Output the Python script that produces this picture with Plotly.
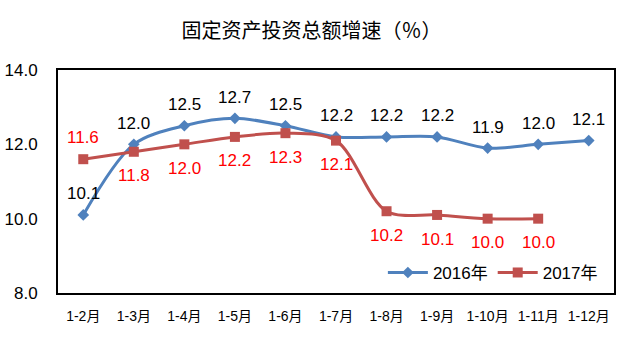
import plotly.graph_objects as go

categories = ["1-2月", "1-3月", "1-4月", "1-5月", "1-6月", "1-7月", "1-8月", "1-9月", "1-10月", "1-11月", "1-12月"]
values_2016 = [10.1, 12.0, 12.5, 12.7, 12.5, 12.2, 12.2, 12.2, 11.9, 12.0, 12.1]
values_2017 = [11.6, 11.8, 12.0, 12.2, 12.3, 12.1, 10.2, 10.1, 10.0, 10.0, None]
y_ticks = [8.0, 10.0, 12.0, 14.0]

# label offsets (pixels, styling only)
shift_2016 = [21] * len(values_2016)
shift_2017 = [22, -24, -24, -24, -24, -24, -24, -25, -24, -24, 0]

FONT = "Liberation Sans, Noto Sans CJK SC, sans-serif"
BLUE = "#4F81BD"
RED = "#C0504D"

fig = go.Figure()
fig.add_trace(go.Scatter(
    x=categories, y=values_2016, name="2016年", mode="lines+markers",
    line=dict(color=BLUE, width=3, shape="spline", smoothing=0.9),
    marker=dict(symbol="diamond", size=9, color=BLUE),
))
fig.add_trace(go.Scatter(
    x=categories, y=values_2017, name="2017年", mode="lines+markers",
    line=dict(color=RED, width=3, shape="spline", smoothing=0.9),
    marker=dict(symbol="square", size=10, color=RED),
))

annotations = []
for c, v, s in zip(categories, values_2016, shift_2016):
    if v is not None:
        annotations.append(dict(x=c, y=v, text=f"{v:.1f}", showarrow=False,
                                yshift=s, font=dict(color="#000000", size=17, family=FONT)))
for c, v, s in zip(categories, values_2017, shift_2017):
    if v is not None:
        annotations.append(dict(x=c, y=v, text=f"{v:.1f}", showarrow=False,
                                yshift=s, font=dict(color="#FF0000", size=17, family=FONT)))

fig.update_layout(
    width=621, height=346,
    margin=dict(l=53, r=5, t=70, b=53),
    paper_bgcolor="white", plot_bgcolor="white",
    font=dict(family=FONT, color="#000000"),
    title=dict(text="固定资产投资总额增速（％）", x=(183 + 440) / 2 / 621, xanchor="center",
               y=1 - 31 / 346, yanchor="middle", yref="container",
               font=dict(size=20, family="Noto Sans CJK SC, sans-serif", color="#000000")),
    showlegend=True,
    legend=dict(orientation="h", x=0.98, xanchor="right", y=0.09, yanchor="middle",
                bgcolor="rgba(0,0,0,0)", font=dict(size=17, family=FONT),
                itemwidth=40, tracegroupgap=0),
    annotations=annotations,
)
fig.update_xaxes(
    type="category", range=[-0.5, 10.5], showgrid=False, zeroline=False,
    showline=True, linecolor="#000000", linewidth=2, mirror=True,
    ticks="", tickfont=dict(size=14, family=FONT), ticklabelstandoff=9,
)
fig.update_yaxes(
    range=[8, 14], tickvals=y_ticks, ticktext=[f"{t:.1f}" for t in y_ticks],
    showgrid=False, zeroline=False,
    showline=True, linecolor="#000000", linewidth=2, mirror=True,
    ticks="", tickfont=dict(size=17, family=FONT), ticklabelstandoff=15,
)

fig.write_html("out.html")
